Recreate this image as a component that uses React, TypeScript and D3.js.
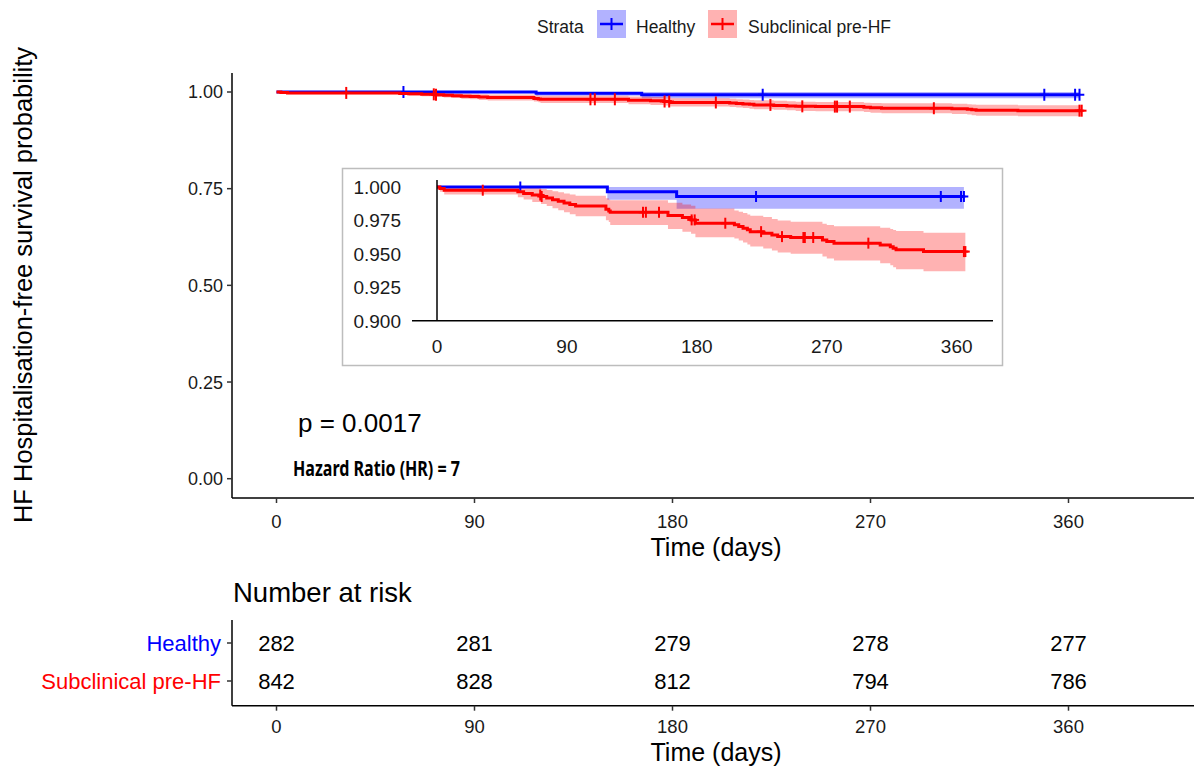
import React from 'react';
import * as d3 from 'd3';

const strata = ['Healthy', 'Subclinical pre-HF'];
const strataColors = ['#0000FF', '#FF0000'];

const healthyTime = [0, 118, 166];
const healthySurv = [1, 0.99645, 0.9929];
const healthyUpper = [1, 1, 1];
const healthyLower = [1, 0.9905, 0.9838];
const healthyEnd = 365;
const healthyCensor = [57.7, 221, 349, 363, 365];

const subTime = [0, 2, 5, 56, 60, 66, 72, 76, 80, 84, 88, 92, 96, 117, 119, 120, 160, 170, 176, 179, 206, 209, 212, 215, 217, 226, 232, 236, 245, 267, 270, 275, 307, 314, 316, 318, 337];
const subSurv = [1, 0.9988, 0.9976, 0.9964, 0.9952, 0.994, 0.9929, 0.9917, 0.9905, 0.9893, 0.9881, 0.9869, 0.9857, 0.9833, 0.9821, 0.9811, 0.9787, 0.9771, 0.9754, 0.9729, 0.9717, 0.9704, 0.9692, 0.968, 0.9666, 0.9654, 0.9641, 0.9629, 0.9622, 0.9604, 0.9592, 0.958, 0.9567, 0.9554, 0.9542, 0.953, 0.9517];
const subUpper = [1, 1, 1, 1, 0.9999, 0.9992, 0.9985, 0.9977, 0.9969, 0.996, 0.9952, 0.9943, 0.9934, 0.9915, 0.9905, 0.99, 0.9882, 0.987, 0.986, 0.984, 0.9825, 0.9815, 0.9805, 0.9795, 0.9785, 0.9775, 0.976, 0.975, 0.974, 0.9725, 0.9715, 0.9706, 0.9695, 0.9685, 0.9678, 0.967, 0.9658];
const subLower = [1, 0.9964, 0.9943, 0.9924, 0.9906, 0.9888, 0.9872, 0.9857, 0.9842, 0.9826, 0.9811, 0.9796, 0.9781, 0.9752, 0.9738, 0.9715, 0.9685, 0.9665, 0.965, 0.9625, 0.9615, 0.96, 0.9585, 0.957, 0.9555, 0.954, 0.9525, 0.951, 0.95, 0.948, 0.9465, 0.945, 0.943, 0.9415, 0.94, 0.9385, 0.937];
const subEnd = 366;
const subCensor = [31.7, 71.5, 72.5, 142.7, 144.7, 153.8, 176.4, 178.5, 199.7, 224.5, 239, 253.8, 254.8, 260.6, 298.8, 365, 366];

const xTicks = [0, 90, 180, 270, 360];
const yTicksMain = [0, 0.25, 0.5, 0.75, 1];
const yTickLabelsMain = ['0.00', '0.25', '0.50', '0.75', '1.00'];
const yTicksInset = [0.9, 0.925, 0.95, 0.975, 1];
const yTickLabelsInset = ['0.900', '0.925', '0.950', '0.975', '1.000'];

const riskTimes = [0, 90, 180, 270, 360];
const riskHealthy = [282, 281, 279, 278, 277];
const riskSub = [842, 828, 812, 794, 786];

const pValueText = 'p = 0.0017';
const hrText = 'Hazard Ratio (HR) = 7';

type Curve = { time: number[]; surv: number[]; upper: number[]; lower: number[]; end: number; censor: number[]; color: string };

const curves: Curve[] = [
  { time: healthyTime, surv: healthySurv, upper: healthyUpper, lower: healthyLower, end: healthyEnd, censor: healthyCensor, color: strataColors[0] },
  { time: subTime, surv: subSurv, upper: subUpper, lower: subLower, end: subEnd, censor: subCensor, color: strataColors[1] },
];

const FONT = '"Liberation Sans", Arial, sans-serif';

function survAt(c: Curve, t: number) {
  let v = c.surv[0];
  for (let i = 0; i < c.time.length; i++) if (c.time[i] <= t) v = c.surv[i];
  return v;
}

function pts(c: Curve) {
  const p = c.time.map((t, i) => ({ t, s: c.surv[i], u: c.upper[i], l: c.lower[i] }));
  const last = p[p.length - 1];
  p.push({ t: c.end, s: last.s, u: last.u, l: last.l });
  return p;
}

function CurveLayer({ x, y, lw, tickH }: { x: d3.ScaleLinear<number, number>; y: d3.ScaleLinear<number, number>; lw: number; tickH: number }) {
  const area = d3.area<any>().x((d) => x(d.t)).y0((d) => y(d.l)).y1((d) => y(d.u)).curve(d3.curveStepAfter);
  const line = d3.line<any>().x((d) => x(d.t)).y((d) => y(d.s)).curve(d3.curveStepAfter);
  return (
    <g>
      {curves.map((c, i) => (
        <path key={'a' + i} d={area(pts(c)) || ''} fill={c.color} fillOpacity={0.3} stroke="none" />
      ))}
      {curves.map((c, i) => (
        <g key={'l' + i}>
          <path d={line(pts(c)) || ''} fill="none" stroke={c.color} strokeWidth={lw} />
          {c.censor.map((t, j) => (
            <g key={j}>
              <line x1={x(t)} x2={x(t)} y1={y(survAt(c, t)) - tickH / 2} y2={y(survAt(c, t)) + tickH / 2} stroke={c.color} strokeWidth={2} />
              <line x1={x(t) - tickH * 0.4} x2={x(t) + tickH * 0.4} y1={y(survAt(c, t))} y2={y(survAt(c, t))} stroke={c.color} strokeWidth={2} />
            </g>
          ))}
        </g>
      ))}
    </g>
  );
}

export default function App() {
  const W = 1194, H = 767;
  const xMain = d3.scaleLinear().domain([0, 360]).range([276.5, 1068.5]);
  const yMain = d3.scaleLinear().domain([0, 1]).range([478.7, 92]);
  const mainLeft = 232, mainBottom = 498, mainTop = 73;
  const xIn = d3.scaleLinear().domain([0, 360]).range([437, 956.7]);
  const yIn = d3.scaleLinear().domain([0.9, 1]).range([320.7, 187]);
  const rowY = [643, 681];
  const riskBottom = 705.7;

  return (
    <div style={{ position: 'absolute', left: 0, top: 0 }}>
      <svg width={W} height={H} style={{ display: 'block', background: '#fff' }} fontFamily={FONT}>
        <rect x={0} y={0} width={W} height={H} fill="#fff" />
        <g fontSize={17.5} fill="#1a1a1a">
          <text x={537} y={33}>Strata</text>
          {strata.map((s, i) => {
            const kx = [597, 708][i];
            const tx = [636, 748][i];
            return (
              <g key={s}>
                <rect x={kx} y={10} width={29} height={28} fill={strataColors[i]} fillOpacity={0.3} />
                <line x1={kx + 3} x2={kx + 26} y1={24} y2={24} stroke={strataColors[i]} strokeWidth={2.5} />
                <line x1={kx + 14.5} x2={kx + 14.5} y1={18} y2={30} stroke={strataColors[i]} strokeWidth={2} />
                <text x={tx} y={33}>{s}</text>
              </g>
            );
          })}
        </g>

        <text transform={`translate(32,285) rotate(-90)`} textAnchor="middle" fontSize={25.5} fill="#000">HF Hospitalisation-free survival probability</text>

        <line x1={mainLeft} x2={mainLeft} y1={mainTop} y2={mainBottom} stroke="#000" strokeWidth={1.5} />
        <line x1={mainLeft} x2={W} y1={mainBottom} y2={mainBottom} stroke="#000" strokeWidth={1.5} />
        {yTicksMain.map((v, i) => (
          <g key={v}>
            <line x1={mainLeft - 5} x2={mainLeft} y1={yMain(v)} y2={yMain(v)} stroke="#333" strokeWidth={1.5} />
            <text x={mainLeft - 9} y={yMain(v)} dy="0.36em" textAnchor="end" fontSize={18} fill="#1a1a1a">{yTickLabelsMain[i]}</text>
          </g>
        ))}
        {xTicks.map((t) => (
          <g key={t}>
            <line x1={xMain(t)} x2={xMain(t)} y1={mainBottom} y2={mainBottom + 5} stroke="#333" strokeWidth={1.5} />
            <text x={xMain(t)} y={528} textAnchor="middle" fontSize={18.5} fill="#1a1a1a">{t}</text>
          </g>
        ))}
        <text x={716} y={556} textAnchor="middle" fontSize={25} fill="#000">Time (days)</text>

        <CurveLayer x={xMain} y={yMain} lw={3} tickH={12} />

        <text x={298} y={432} fontSize={26} fill="#000">{pValueText}</text>
        <text x={293} y={476} fontSize={22} fontWeight="bold" fontFamily='"Noto Sans", sans-serif' textLength={167} lengthAdjust="spacingAndGlyphs" fill="#000">{hrText}</text>

        <rect x={342.5} y={168.5} width={660} height={197} fill="#fff" stroke="#bdbdbd" strokeWidth={1.5} />
        <CurveLayer x={xIn} y={yIn} lw={3} tickH={11} />
        <line x1={437} x2={437} y1={180} y2={320.7} stroke="#000" strokeWidth={1.5} />
        <line x1={412} x2={993} y1={320.7} y2={320.7} stroke="#000" strokeWidth={1.5} />
        {yTicksInset.map((v, i) => (
          <text key={v} x={401} y={yIn(v)} dy="0.36em" textAnchor="end" fontSize={19} fill="#1a1a1a">{yTickLabelsInset[i]}</text>
        ))}
        {xTicks.map((t) => (
          <text key={t} x={xIn(t)} y={353} textAnchor="middle" fontSize={19} fill="#1a1a1a">{t}</text>
        ))}

        <text x={233} y={602} fontSize={27.5} fill="#000">Number at risk</text>
        <line x1={mainLeft} x2={mainLeft} y1={620} y2={riskBottom} stroke="#000" strokeWidth={1.5} />
        <line x1={mainLeft} x2={W} y1={riskBottom} y2={riskBottom} stroke="#000" strokeWidth={1.5} />
        {strata.map((s, i) => (
          <g key={s}>
            <line x1={mainLeft - 5} x2={mainLeft} y1={rowY[i]} y2={rowY[i]} stroke="#333" strokeWidth={1.5} />
            <text x={221} y={rowY[i]} dy="0.36em" textAnchor="end" fontSize={22} fill={strataColors[i]}>{s}</text>
            {(i === 0 ? riskHealthy : riskSub).map((n, j) => (
              <text key={j} x={xMain(riskTimes[j])} y={rowY[i]} dy="0.36em" textAnchor="middle" fontSize={22} fill="#000">{n}</text>
            ))}
          </g>
        ))}
        {xTicks.map((t) => (
          <g key={t}>
            <line x1={xMain(t)} x2={xMain(t)} y1={riskBottom} y2={riskBottom + 5} stroke="#333" strokeWidth={1.5} />
            <text x={xMain(t)} y={733} textAnchor="middle" fontSize={18.5} fill="#1a1a1a">{t}</text>
          </g>
        ))}
        <text x={716} y={761} textAnchor="middle" fontSize={25} fill="#000">Time (days)</text>
      </svg>
    </div>
  );
}
